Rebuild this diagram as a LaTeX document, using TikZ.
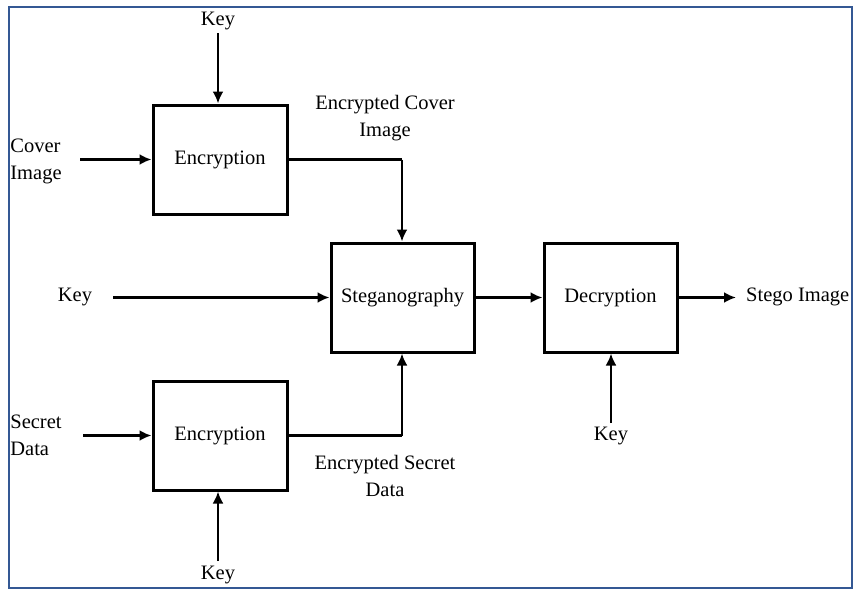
\documentclass[tikz,border=0pt]{standalone}
\usepackage{fontspec}
\setmainfont{Liberation Serif}
\usetikzlibrary{arrows.meta}
\definecolor{frameblue}{RGB}{52,88,148}
\begin{document}
\begin{tikzpicture}[x=1pt,y=-1pt,
  blk/.style={draw,line width=3pt,minimum width=134pt,minimum height=109pt,inner sep=0pt},
  txt/.style={font=\fontsize{20.5}{27}\selectfont,align=center,inner sep=0pt},
  arr/.style={line width=2.8pt,-{Latex[length=12pt,width=11pt]}},
  ln/.style={line width=2.8pt}]
\useasboundingbox (0,0) rectangle (853,589);
\fill[white] (0,0) rectangle (853,589);
% blocks
\node[blk,txt] (enc1) at (220,159.5) {Encryption};
\node[blk,txt] (enc2) at (220,435.5) {Encryption};
\node[blk,txt,minimum width=143pt] (steg) at (402.5,297.5) {Steganography};
\node[blk,txt,minimum width=133pt] (dec) at (610.5,297.5) {Decryption};
% texts
\node[txt] (k1) at (218,21) {Key};
\node[txt,align=left] (cover) at (36,161) {Cover\\Image};
\node[txt] (ecov) at (385,118) {Encrypted Cover\\Image};
\node[txt] (k2) at (75,297) {Key};
\node[txt,anchor=west] (stego) at (746,297) {Stego Image};
\node[txt] (k3) at (611,436) {Key};
\node[txt,align=left] (secret) at (36,435) {Secret\\Data};
\node[txt] (esec) at (385,476) {Encrypted Secret\\Data};
\node[txt] (k4) at (218,575) {Key};
% connectors
\coordinate (c1) at (402,159.5);
\coordinate (c2) at (402,435.5);
\draw[arr] (218,33) -- (enc1.north -| 218,0);
\draw[arr] (80,159.5) -- (enc1.west);
\draw[ln] (enc1.east) -- (c1);
\draw[arr] (c1) -- (steg.north -| c1);
\draw[arr] (113,297.5) -- (steg.west);
\draw[arr] (steg.east) -- (dec.west);
\draw[arr] (dec.east) -- (dec.east -| 736,0);
\draw[arr] (611,423) -- (dec.south -| 611,0);
\draw[arr] (83,435.5) -- (enc2.west);
\draw[ln] (enc2.east) -- (c2);
\draw[arr] (c2) -- (steg.south -| c2);
\draw[arr] (218,561) -- (enc2.south -| 218,0);
% frame
\draw[frameblue,line width=2pt] (8.5,6.5) rectangle (851.5,587.5);
\end{tikzpicture}
\end{document}
